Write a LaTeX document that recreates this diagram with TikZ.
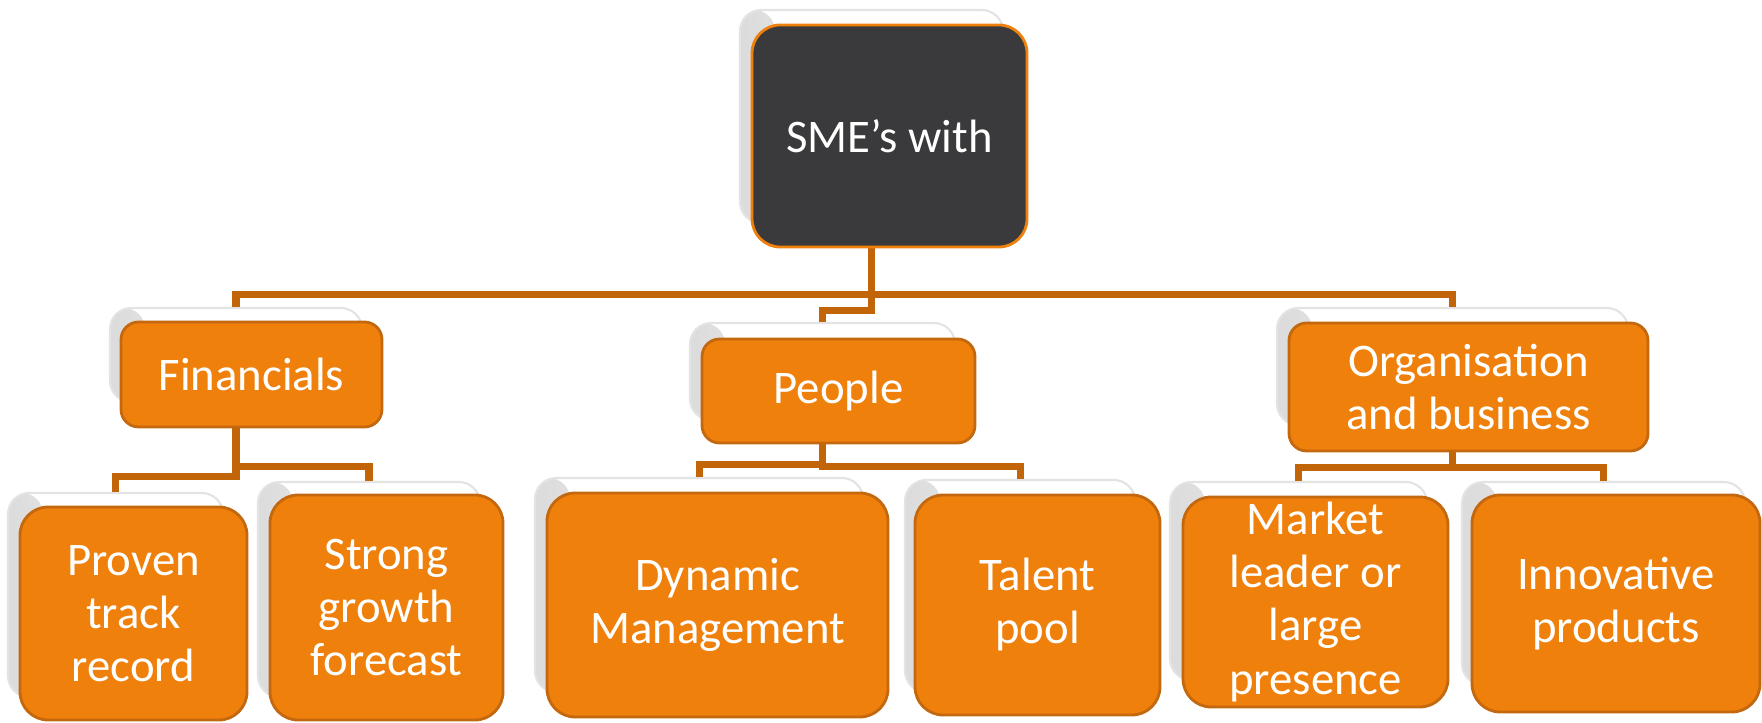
\documentclass[tikz,border=0pt]{standalone}
\usepackage{fontspec}
\newfontfamily\boxfont{Carlito}
\definecolor{boxfill}{RGB}{239,128,11}
\definecolor{boxline}{RGB}{196,104,16}
\definecolor{smefill}{RGB}{58,58,60}
\definecolor{linkcol}{RGB}{194,101,8}
\begin{document}
\begin{tikzpicture}
		[card/.style={fill=white, draw=gray!22, line width=0.6pt,
			rounded corners=6pt, inner sep=0pt,
			path picture={\shade[left color=gray!28, right color=white]
				(path picture bounding box.south west) rectangle
				([xshift=3.5mm]path picture bounding box.north west);}},
		box/.style={fill=boxfill, draw=boxline, line width=0.8pt,
			rounded corners=5pt, inner sep=0pt, text=white, align=center,
			font=\boxfont\fontsize{13.3}{15.1}\selectfont},
		leaf/.style={box, rounded corners=8pt},
		link/.style={draw=linkcol, line width=2pt}
		]
		\useasboundingbox (0,0) rectangle (17.62,7.22);
		% cards behind the boxes
		\node[card, minimum width=2.63cm, minimum height=2.13cm] (smeB) at (8.715,6.055) {};
		\node[card, minimum width=2.52cm, minimum height=0.94cm] (finB) at (2.36,3.67) {};
		\node[card, minimum width=2.65cm, minimum height=0.97cm] (pplB) at (8.225,3.505) {};
		\node[card, minimum width=3.51cm, minimum height=1.17cm] (orgB) at (14.525,3.555) {};
		\node[card, minimum width=2.15cm, minimum height=2.04cm] (provB) at (1.155,1.27) {};
		\node[card, minimum width=2.22cm, minimum height=2.15cm] (strB) at (3.69,1.325) {};
		\node[card, minimum width=3.28cm, minimum height=2.14cm] (dynB) at (6.99,1.37) {};
		\node[card, minimum width=2.30cm, minimum height=2.12cm] (talB) at (10.2,1.36) {};
		\node[card, minimum width=2.57cm, minimum height=1.98cm] (mktB) at (12.985,1.41) {};
		\node[card, minimum width=2.83cm, minimum height=2.03cm] (innB) at (16.035,1.385) {};
		% connectors
		\draw[link] (smeB.south) -- ++(0,-0.70) -| (finB.north);
		\draw[link] (smeB.south) -- ++(0,-0.70) -| (orgB.north);
		\draw[link] (smeB.south) -- ++(0,-0.86) -| (pplB.north);
		\draw[link] (finB.south) -- ++(0,-0.73) -| (provB.north);
		\draw[link] (finB.south) -- ++(0,-0.63) -| (strB.north);
		\draw[link] (pplB.south) -- ++(0,-0.43) -| (dynB.north);
		\draw[link] (pplB.south) -- ++(0,-0.45) -| (talB.north);
		\draw[link] (orgB.south) -- ++(0,-0.41) -| (mktB.north);
		\draw[link] (orgB.south) -- ++(0,-0.41) -| (innB.north);
		% boxes
		\node[leaf, fill=smefill, draw=boxfill, minimum width=2.75cm, minimum height=2.22cm] (sme) at (8.895,5.86) {SME’s with};
		\node[box, minimum width=2.61cm, minimum height=1.05cm] (fin) at (2.515,3.475) {Financials};
		\node[box, minimum width=2.73cm, minimum height=1.04cm] (ppl) at (8.385,3.31) {People};
		\node[box, minimum width=3.59cm, minimum height=1.28cm] (org) at (14.685,3.35) {Organisation\\and business};
		\node[leaf, minimum width=2.27cm, minimum height=2.13cm] (prov) at (1.335,1.085) {Proven\\track\\record};
		\node[leaf, minimum width=2.33cm, minimum height=2.25cm] (str) at (3.865,1.145) {Strong\\growth\\forecast};
		\node[leaf, minimum width=3.41cm, minimum height=2.24cm] (dyn) at (7.175,1.17) {Dynamic\\Management};
		\node[leaf, minimum width=2.45cm, minimum height=2.20cm] (tal) at (10.375,1.17) {Talent\\pool};
		\node[leaf, minimum width=2.65cm, minimum height=2.10cm] (mkt) at (13.155,1.2) {Market\\leader or\\large\\presence};
		\node[leaf, minimum width=2.88cm, minimum height=2.17cm] (inn) at (16.16,1.185) {Innovative\\products};
	\end{tikzpicture}
\end{document}
